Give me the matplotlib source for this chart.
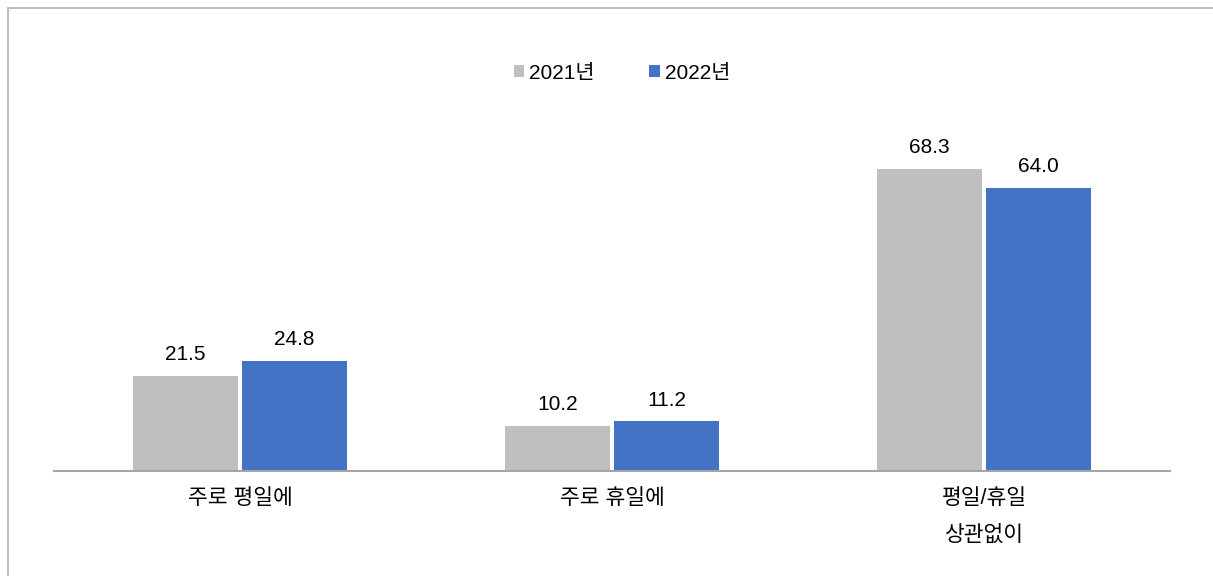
import matplotlib
matplotlib.use("Agg")
import matplotlib.pyplot as plt
from matplotlib.patches import Patch
from matplotlib.lines import Line2D
import numpy as np

categories = ["주로 평일에", "주로 휴일에", "평일/휴일\n상관없이"]
series_names = ["2021년", "2022년"]
values_2021 = [21.5, 10.2, 68.3]
values_2022 = [24.8, 11.2, 64.0]
colors = ["#BFBFBF", "#4472C4"]

plt.rcParams['font.family'] = ['Liberation Sans', 'Noto Sans CJK KR', 'DejaVu Sans']

W, H = 1213, 576
fig = plt.figure(figsize=(W/100, H/100), dpi=100)
fig.patch.set_facecolor("white")

# outer chart border (only left and top visible)
bx, by = 7.5/W, (H-7.5)/H
fig.lines.append(Line2D([bx, bx], [0, by], transform=fig.transFigure,
                        color="#BFBFBF", linewidth=1.5, solid_capstyle="projecting"))
fig.lines.append(Line2D([bx, 1.0], [by, by], transform=fig.transFigure,
                        color="#BFBFBF", linewidth=1.5, solid_capstyle="projecting"))

ymax = 80
base_px = 471
top_px = base_px - 4.42*ymax
ax = fig.add_axes([54/W, (H-base_px)/H, (1170-54)/W, (base_px-top_px)/H])
ax.set_xlim(-0.5, 2.5)
ax.set_ylim(0, ymax)

x = np.arange(len(categories))
w = 0.282
off = 0.147
b1 = ax.bar(x - off, values_2021, w, color=colors[0], label=series_names[0])
b2 = ax.bar(x + off, values_2022, w, color=colors[1], label=series_names[1])

for bars, vals in ((b1, values_2021), (b2, values_2022)):
    for rect, v in zip(bars, vals):
        ax.annotate(f"{v:.1f}", (rect.get_x() + rect.get_width()/2, v),
                    xytext=(0, 11.5), textcoords="offset points",
                    ha="center", va="baseline", fontsize=15, color="#000000")

for s in ["top", "right", "left"]:
    ax.spines[s].set_visible(False)
ax.spines["bottom"].set_color("#A6A6A6")
ax.spines["bottom"].set_linewidth(1.5)
ax.set_yticks([])
ax.set_xticks(x)
ax.set_xticklabels(categories, fontsize=15.5, linespacing=2.0)
ax.tick_params(axis="x", length=0, pad=12)
ax.set_facecolor("none")

handles = [Patch(facecolor=colors[0]), Patch(facecolor=colors[1])]
fig.legend(handles, series_names, loc="center", bbox_to_anchor=(622/W, (H-73)/H),
           ncol=2, frameon=False, fontsize=15, handlelength=0.5, handleheight=0.5,
           handletextpad=0.25, columnspacing=2.6)

fig.savefig("out.png", dpi=100, facecolor="white")
